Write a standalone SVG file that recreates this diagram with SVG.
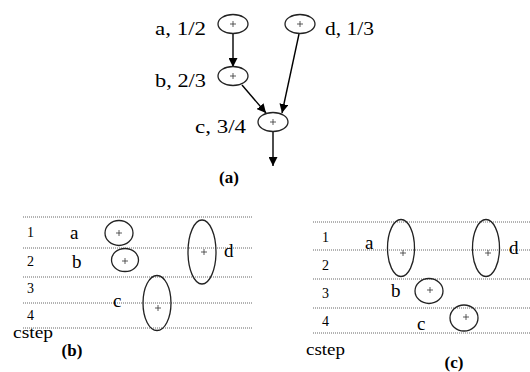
<svg xmlns="http://www.w3.org/2000/svg" width="530" height="372" viewBox="0 0 530 372" font-family="'Liberation Serif', 'DejaVu Serif', serif">
<defs>
<marker id="ah" viewBox="0 0 10 10" refX="10" refY="5" markerWidth="9" markerHeight="9" markerUnits="userSpaceOnUse" orient="auto">
<path d="M0,0 L10,5 L0,10 z" fill="#000"/>
</marker>
</defs>
<style>
text{font-family:'Liberation Serif','DejaVu Serif',serif;fill:#000}
.lab{font-size:18px}
.cap{font-size:17px;font-weight:bold;text-anchor:middle}
.row{font-size:14px}
.op{font-size:19px}
.cs{font-size:16px}
.node{fill:none;stroke:#222;stroke-width:1.3}
.plus{stroke:#333;stroke-width:0.8}
.edge{stroke:#000;stroke-width:1.4;fill:none;marker-end:url(#ah)}
.dot{stroke:#666;stroke-width:1;stroke-dasharray:1 1}
</style>
<rect width="530" height="372" fill="#fff"/>

<!-- (a) dataflow graph -->
<g id="connectors">
<line class="edge" x1="233" y1="34" x2="233" y2="67"/>
<line class="edge" x1="242" y1="85" x2="266" y2="113"/>
<line class="edge" x1="299" y1="34" x2="282" y2="113"/>
<line class="edge" x1="273" y1="132" x2="273" y2="166"/>
</g>
<g id="node-a">
<ellipse class="node" cx="233" cy="24" rx="15" ry="9.5"/>
<path class="plus" d="M230,24h6M233,21v6"/>
<text class="lab" x="155" y="35" textLength="51" lengthAdjust="spacingAndGlyphs">a, 1/2</text>
</g>
<g id="node-d">
<ellipse class="node" cx="300" cy="24" rx="15" ry="9.5"/>
<path class="plus" d="M297,24h6M300,21v6"/>
<text class="lab" x="325" y="35" textLength="49" lengthAdjust="spacingAndGlyphs">d, 1/3</text>
</g>
<g id="node-b">
<ellipse class="node" cx="233" cy="76" rx="15" ry="9.5"/>
<path class="plus" d="M230,76h6M233,73v6"/>
<text class="lab" x="155" y="87" textLength="51" lengthAdjust="spacingAndGlyphs">b, 2/3</text>
</g>
<g id="node-c">
<ellipse class="node" cx="273" cy="122" rx="15" ry="9.5"/>
<path class="plus" d="M270,122h6M273,119v6"/>
<text class="lab" x="195" y="133" textLength="51" lengthAdjust="spacingAndGlyphs">c, 3/4</text>
</g>
<text class="cap" x="229" y="183">(a)</text>

<!-- (b) schedule -->
<g id="grid-b">
<line class="dot" x1="23" y1="217" x2="252" y2="217"/>
<line class="dot" x1="23" y1="248" x2="252" y2="248"/>
<line class="dot" x1="23" y1="277" x2="252" y2="277"/>
<line class="dot" x1="23" y1="303" x2="252" y2="303"/>
<line class="dot" x1="23" y1="328" x2="252" y2="328"/>
<text class="row" x="27" y="237">1</text>
<text class="row" x="27" y="266">2</text>
<text class="row" x="27" y="293">3</text>
<text class="row" x="27" y="320">4</text>
<text class="cs" x="13" y="338" textLength="40" lengthAdjust="spacingAndGlyphs">cstep</text>
</g>
<g id="b-a">
<ellipse class="node" cx="119" cy="233" rx="14" ry="12.5"/>
<path class="plus" d="M116,233h6M119,230v6"/>
<text class="op" x="70" y="239">a</text>
</g>
<g id="b-b">
<ellipse class="node" cx="125" cy="260" rx="13.5" ry="11.5"/>
<path class="plus" d="M122,261h6M125,258v6"/>
<text class="op" x="72" y="268">b</text>
</g>
<g id="b-c">
<ellipse class="node" cx="157" cy="303" rx="14" ry="27.5"/>
<path class="plus" d="M155,308h6M158,305v6"/>
<text class="op" x="113" y="307">c</text>
</g>
<g id="b-d">
<ellipse class="node" cx="202" cy="252" rx="14" ry="32"/>
<path class="plus" d="M201,252h6M204,249v6"/>
<text class="op" x="224" y="257">d</text>
</g>
<text class="cap" x="72" y="356">(b)</text>

<!-- (c) schedule -->
<g id="grid-c">
<line class="dot" x1="313" y1="222" x2="530" y2="222"/>
<line class="dot" x1="313" y1="250" x2="530" y2="250"/>
<line class="dot" x1="313" y1="279" x2="530" y2="279"/>
<line class="dot" x1="313" y1="308" x2="530" y2="308"/>
<line class="dot" x1="313" y1="333" x2="530" y2="333"/>
<text class="row" x="322" y="242">1</text>
<text class="row" x="322" y="270">2</text>
<text class="row" x="322" y="298">3</text>
<text class="row" x="322" y="326">4</text>
<text class="cs" x="306" y="355" textLength="39" lengthAdjust="spacingAndGlyphs">cstep</text>
</g>
<g id="c-a">
<ellipse class="node" cx="401" cy="248" rx="13.5" ry="28.5"/>
<path class="plus" d="M400,253h6M403,250v6"/>
<text class="op" x="365" y="249">a</text>
</g>
<g id="c-d">
<ellipse class="node" cx="486" cy="248" rx="13.5" ry="28.5"/>
<path class="plus" d="M485,253h6M488,250v6"/>
<text class="op" x="509" y="254">d</text>
</g>
<g id="c-b">
<ellipse class="node" cx="429" cy="291" rx="14" ry="12.5"/>
<path class="plus" d="M427,290h6M430,287v6"/>
<text class="op" x="391" y="297">b</text>
</g>
<g id="c-c">
<ellipse class="node" cx="464" cy="318" rx="14" ry="13"/>
<path class="plus" d="M463,317h6M466,314v6"/>
<text class="op" x="417" y="330">c</text>
</g>
<text class="cap" x="454" y="368">(c)</text>
</svg>
